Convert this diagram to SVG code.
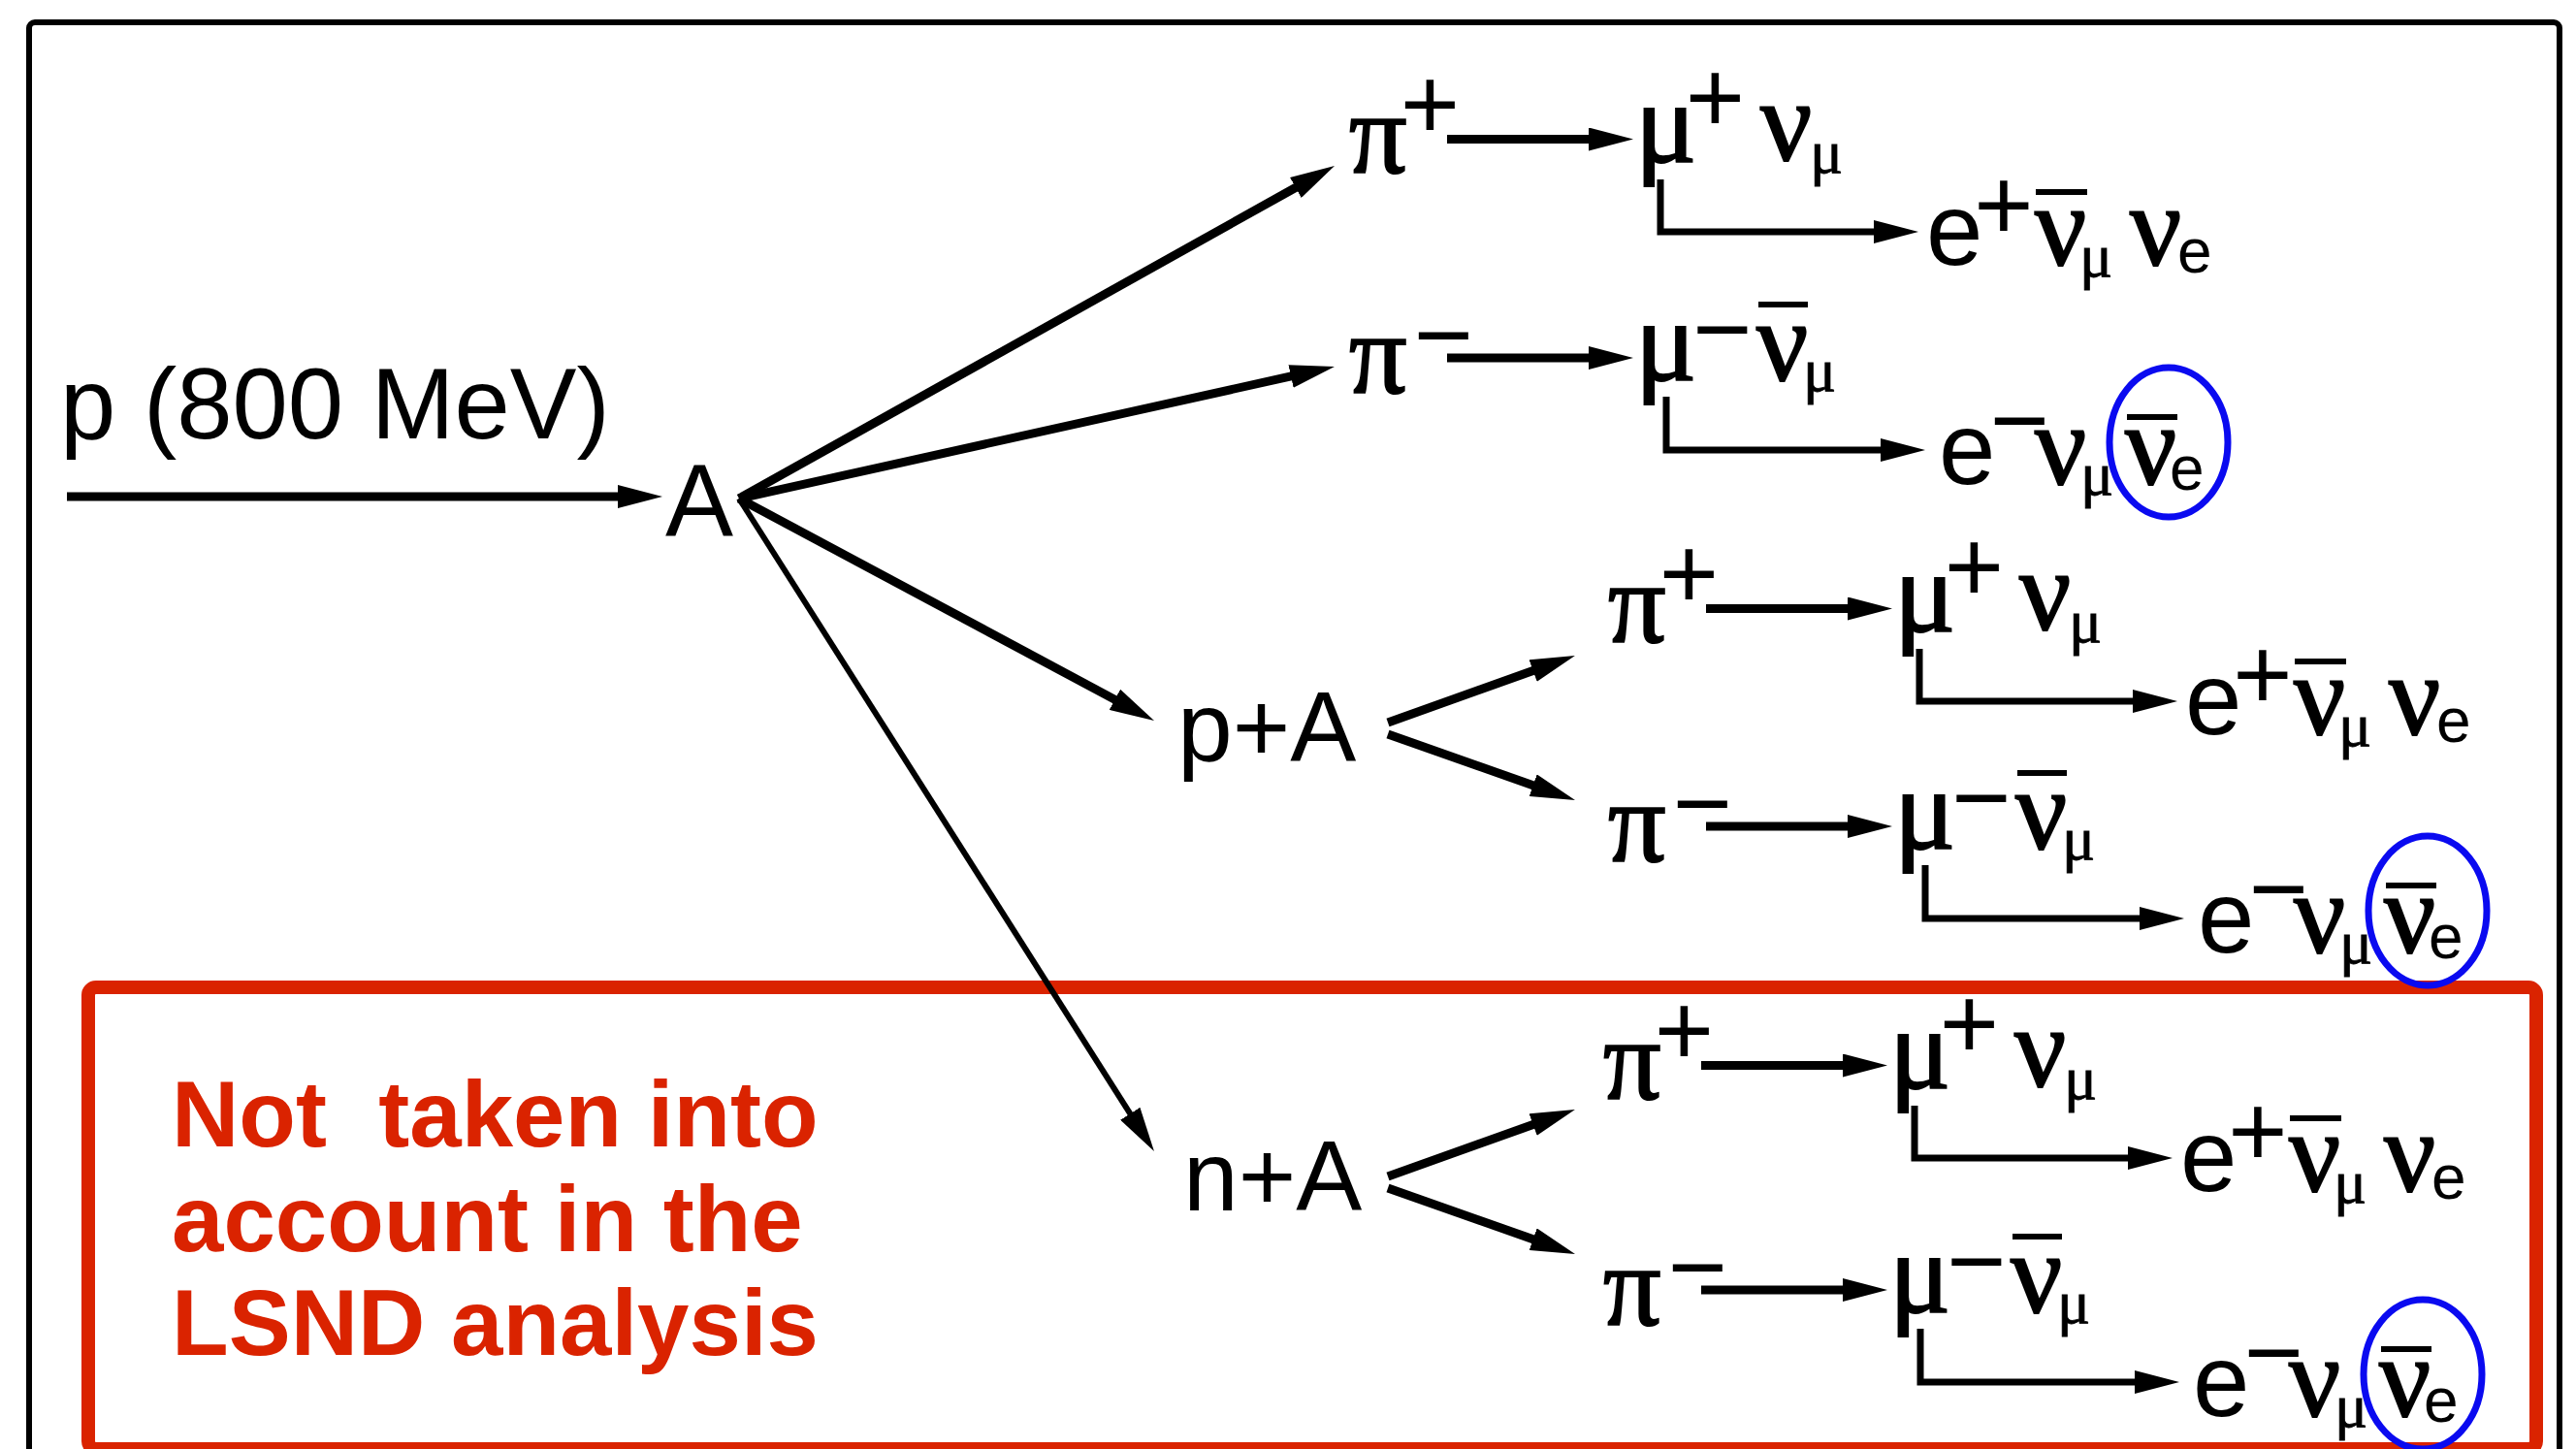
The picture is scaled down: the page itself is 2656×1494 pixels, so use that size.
<svg xmlns="http://www.w3.org/2000/svg" width="2656" height="1494" viewBox="0 0 2656 1494">
<style>
.lbl{font-family:"Liberation Sans",Arial,Helvetica,sans-serif;font-size:105px;fill:#000}
.gr{font-family:"Liberation Serif","Times New Roman",serif;font-size:118px;fill:#000;stroke:#000;stroke-width:2}
.sub{font-family:"Liberation Serif","Times New Roman",serif;font-size:64px;fill:#000;stroke:#000;stroke-width:0.8}
.subs{font-family:"Liberation Sans",Arial,sans-serif;font-size:64px;fill:#000}
.sup{font-family:"Liberation Sans",Arial,sans-serif;font-size:105px;fill:#000;text-anchor:middle}
.arr{stroke:#000;stroke-width:9;fill:none;marker-end:url(#ah)}
.thin{stroke:#000;stroke-width:6;fill:none;marker-end:url(#ah)}
.lc{stroke:#000;stroke-width:7;fill:none;marker-end:url(#ah)}
.bar{stroke:#000;stroke-width:6}
.ring{fill:none;stroke:#0a0af0;stroke-width:7}
.note{font-family:"Liberation Sans",Arial,sans-serif;font-weight:bold;font-size:96px;fill:#da2300;white-space:pre}
</style>
<defs>
<marker id="ah" markerUnits="userSpaceOnUse" viewBox="0 0 46 24" markerWidth="46" markerHeight="24" refX="6" refY="12" orient="auto"><path d="M0,0L46,12L0,24Z" fill="#000"/></marker>
</defs>
<rect id="frame" x="30" y="23" width="2609" height="1530" rx="6" fill="none" stroke="#000" stroke-width="6"/>
<g id="note">
<rect x="91" y="1018" width="2524" height="476" rx="8" fill="none" stroke="#da2300" stroke-width="14"/>
<text class="note" xml:space="preserve" x="177" y="1182">Not  taken into</text>
<text class="note" x="177" y="1290">account in the</text>
<text class="note" x="177" y="1397">LSND analysis</text>
</g>
<g id="beam"><text class="lbl" x="62" y="452" style="font-size:103px">p (800 MeV)</text></g>
<g id="target"><text class="lbl" x="686" y="552">A</text></g>
<g id="pA"><text class="lbl" x="1214" y="785" style="font-size:102px">p+A</text></g>
<g id="nA"><text class="lbl" x="1220" y="1248" style="font-size:102px">n+A</text></g>

<g id="g1">
<text class="gr" x="1391" y="178">π</text>
<text class="sup" x="1474.5" y="143">+</text>
<text class="gr" x="1686" y="167">μ</text>
<text class="sup" x="1768.5" y="136">+</text>
<text class="gr" x="1815" y="165">ν</text>
<text class="sub" x="1866" y="178">μ</text>
<text class="lbl" x="1986" y="273">e</text>
<text class="sup" x="2066" y="247">+</text>
<line class="bar" x1="2099" y1="198" x2="2152" y2="198"/>
<text class="gr" x="2098" y="273">ν</text>
<text class="sub" x="2144" y="285">μ</text>
<text class="gr" x="2196" y="273">ν</text>
<text class="subs" x="2245" y="281">e</text>
</g>

<g id="g2">
<text class="gr" x="1391" y="405">π</text>
<text class="sup" x="1488.5" y="381">−</text>
<text class="gr" x="1686" y="392">μ</text>
<text class="sup" x="1776" y="375">−</text>
<line class="bar" x1="1813" y1="314" x2="1864" y2="314"/>
<text class="gr" x="1811" y="392">ν</text>
<text class="sub" x="1859" y="403">μ</text>
<text class="lbl" x="1999" y="499">e</text>
<text class="sup" x="2082.5" y="469">−</text>
<text class="gr" x="2098" y="499">ν</text>
<text class="sub" x="2145" y="510">μ</text>
<line class="bar" x1="2193" y1="430" x2="2245" y2="430"/>
<text class="gr" x="2191" y="499">ν</text>
<text class="subs" x="2237" y="505">e</text>
<ellipse class="ring" cx="2236" cy="456" rx="61" ry="77"/>
</g>

<g id="g3" transform="translate(267,484)">
<text class="gr" x="1391" y="178">π</text>
<text class="sup" x="1474.5" y="143">+</text>
<text class="gr" x="1686" y="167">μ</text>
<text class="sup" x="1768.5" y="136">+</text>
<text class="gr" x="1815" y="165">ν</text>
<text class="sub" x="1866" y="178">μ</text>
<text class="lbl" x="1986" y="273">e</text>
<text class="sup" x="2066" y="247">+</text>
<line class="bar" x1="2099" y1="198" x2="2152" y2="198"/>
<text class="gr" x="2098" y="273">ν</text>
<text class="sub" x="2144" y="285">μ</text>
<text class="gr" x="2196" y="273">ν</text>
<text class="subs" x="2245" y="281">e</text>
</g>

<g id="g4" transform="translate(267,483)">
<text class="gr" x="1391" y="405">π</text>
<text class="sup" x="1488.5" y="381">−</text>
<text class="gr" x="1686" y="392">μ</text>
<text class="sup" x="1776" y="375">−</text>
<line class="bar" x1="1813" y1="314" x2="1864" y2="314"/>
<text class="gr" x="1811" y="392">ν</text>
<text class="sub" x="1859" y="403">μ</text>
<text class="lbl" x="1999" y="499">e</text>
<text class="sup" x="2082.5" y="469">−</text>
<text class="gr" x="2098" y="499">ν</text>
<text class="sub" x="2145" y="510">μ</text>
<line class="bar" x1="2193" y1="430" x2="2245" y2="430"/>
<text class="gr" x="2191" y="499">ν</text>
<text class="subs" x="2237" y="505">e</text>
<ellipse class="ring" cx="2236" cy="456" rx="61" ry="77"/>
</g>

<g id="g5" transform="translate(262,955)">
<text class="gr" x="1391" y="178">π</text>
<text class="sup" x="1474.5" y="143">+</text>
<text class="gr" x="1686" y="167">μ</text>
<text class="sup" x="1768.5" y="136">+</text>
<text class="gr" x="1815" y="165">ν</text>
<text class="sub" x="1866" y="178">μ</text>
<text class="lbl" x="1986" y="273">e</text>
<text class="sup" x="2066" y="247">+</text>
<line class="bar" x1="2099" y1="198" x2="2152" y2="198"/>
<text class="gr" x="2098" y="273">ν</text>
<text class="sub" x="2144" y="285">μ</text>
<text class="gr" x="2196" y="273">ν</text>
<text class="subs" x="2245" y="281">e</text>
</g>

<g id="g6" transform="translate(262,961)">
<text class="gr" x="1391" y="405">π</text>
<text class="sup" x="1488.5" y="381">−</text>
<text class="gr" x="1686" y="392">μ</text>
<text class="sup" x="1776" y="375">−</text>
<line class="bar" x1="1813" y1="314" x2="1864" y2="314"/>
<text class="gr" x="1811" y="392">ν</text>
<text class="sub" x="1859" y="403">μ</text>
<text class="lbl" x="1999" y="499">e</text>
<text class="sup" x="2082.5" y="469">−</text>
<text class="gr" x="2098" y="499">ν</text>
<text class="sub" x="2145" y="510">μ</text>
<line class="bar" x1="2193" y1="430" x2="2245" y2="430"/>
<text class="gr" x="2191" y="499">ν</text>
<text class="subs" x="2237" y="505">e</text>
<ellipse class="ring" cx="2236" cy="456" rx="61" ry="77"/>
</g>

<g id="connectors">
<line class="arr" x1="69" y1="512" x2="643" y2="512"/>
<line class="arr" x1="762" y1="514" x2="1341.1" y2="190.5"/>
<line class="arr" x1="762" y1="514" x2="1336.9" y2="386.7"/>
<line class="arr" x1="762" y1="514" x2="1154.7" y2="724.1"/>
<line class="thin" x1="762" y1="514" x2="1168.5" y2="1153.3"/>
<line class="arr" x1="1431" y1="745" x2="1586.3" y2="689.5"/>
<line class="arr" x1="1431" y1="757" x2="1586.3" y2="811.7"/>
<line class="arr" x1="1431" y1="1213" x2="1586.3" y2="1157.5"/>
<line class="arr" x1="1431" y1="1225" x2="1586.3" y2="1279.7"/>
<g id="c1">
<line class="arr" x1="1492" y1="143.5" x2="1644" y2="143.5"/>
<polyline class="lc" points="1712,185 1712,239 1938,239"/>
</g>
<g id="c2">
<line class="arr" x1="1492" y1="369" x2="1644" y2="369"/>
<polyline class="lc" points="1718,409 1718,464 1945,464"/>
</g>
<g id="c3" transform="translate(267,484)">
<line class="arr" x1="1492" y1="143.5" x2="1644" y2="143.5"/>
<polyline class="lc" points="1712,185 1712,239 1938,239"/>
</g>
<g id="c4" transform="translate(267,483)">
<line class="arr" x1="1492" y1="369" x2="1644" y2="369"/>
<polyline class="lc" points="1718,409 1718,464 1945,464"/>
</g>
<g id="c5" transform="translate(262,955)">
<line class="arr" x1="1492" y1="143.5" x2="1644" y2="143.5"/>
<polyline class="lc" points="1712,185 1712,239 1938,239"/>
</g>
<g id="c6" transform="translate(262,961)">
<line class="arr" x1="1492" y1="369" x2="1644" y2="369"/>
<polyline class="lc" points="1718,409 1718,464 1945,464"/>
</g>
</g>
</svg>
